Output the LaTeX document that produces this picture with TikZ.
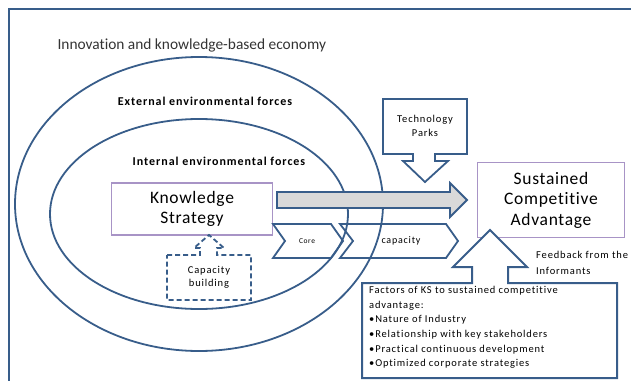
\documentclass[tikz,border=0pt]{standalone}
\usepackage{fontspec}
\setmainfont{Carlito}[Ligatures=NoCommon]
\newfontfamily\widefont[LetterSpace=8, Ligatures=NoCommon]{Carlito}
\newfontfamily\bigfont[LetterSpace=4, Ligatures=NoCommon]{Carlito}
\usetikzlibrary{positioning}
\definecolor{frameblue}{HTML}{385D8A}
\definecolor{boxpurple}{HTML}{A894C6}

\begin{document}
\begin{tikzpicture}[x=1pt, y=-1pt, line join=miter,
  line/.style = {draw=frameblue, line width=1.8pt},
  main/.style = {draw=boxpurple, line width=1.4pt, fill=white, align=center, inner sep=0pt, font=\bigfont\fontsize{17.5}{20.5}\selectfont},
  forces/.style = {font=\widefont\bfseries\fontsize{12}{13}\selectfont},
  small/.style = {align=center, inner sep=0pt}]
\useasboundingbox (0,0) rectangle (631,380);

% frame and the two environments
\draw[line, line width=2.2pt] (9,9) rectangle (660,400);
\draw[line] (199,204) ellipse [x radius=184pt, y radius=147pt];
\draw[line] (199,214) ellipse [x radius=149pt, y radius=95pt];

\node[anchor=west, text=black!80, font=\fontsize{15.4}{17}\selectfont] (0) at (54,45) {Innovation and knowledge-based economy};
\node[forces] (a) at (205,101) {External environmental forces};
\node[forces] (b) at (219,161) {Internal environmental forces};

\node[main, minimum width=161pt, minimum height=52pt] (1) at (192,209) {Knowledge\\Strategy};
\node[main, minimum width=147pt, minimum height=75pt] (2) at (551,200) {Sustained\\Competitive\\Advantage};

% block arrow from strategy to advantage
\draw[line, fill=black!15] (277,192) -- (450,192) -- (450,183) -- (467,200) -- (450,217) -- (450,208) -- (277,208) -- cycle;

% chevrons
\draw[line] (273,224) -- (331,224) -- (343,241) -- (331,258) -- (273,258) -- (285,241) -- cycle;
\draw[line] (340,224) -- (446,224) -- (458,241) -- (446,258) -- (340,258) -- (353,241) -- cycle;
\node[font=\widefont\fontsize{7.5}{8}\selectfont] (3) at (307,241) {Core};
\node[font=\widefont\fontsize{10}{10}\selectfont] (4) at (401,241) {capacity};

% technology parks callout
\draw[line, fill=white] (383,99) -- (467,99) -- (467,154) -- (435,154) -- (435,161) -- (448,161) -- (425,182)
  -- (403,161) -- (413,161) -- (413,154) -- (383,154) -- cycle;
\node[small, font=\widefont\fontsize{10.5}{14}\selectfont] (5) at (425,126) {Technology\\Parks};

% capacity building callout
\draw[line, dashed, dash pattern=on 5pt off 3pt, fill=white] (167,255) -- (200,255) -- (200,248) -- (194,248) -- (209,235)
  -- (224,248) -- (217,248) -- (217,255) -- (251,255) -- (251,300) -- (167,300) -- cycle;
\node[small, font=\widefont\fontsize{10.5}{13}\selectfont] (6) at (209,277) {Capacity\\building};

% factors box with feedback arrow
\draw[line, line width=2pt, fill=white] (362,283) -- (472,283) -- (472,267) -- (453,267) -- (490,230) -- (527,267)
  -- (508,267) -- (508,283) -- (617,283) -- (617,378) -- (362,378) -- cycle;
\node[anchor=west, align=left, inner sep=0pt, font=\widefont\fontsize{10.5}{16.5}\selectfont] (7) at (536,263) {Feedback from the\\Informants};
\node[anchor=north west, align=left, inner sep=0pt, font=\widefont\fontsize{10.5}{14.7}\selectfont] (8) at (369,286)
  {Factors of KS to sustained competitive\\advantage:\\\textbullet Nature of Industry\\\textbullet Relationship with key stakeholders\\\textbullet Practical continuous development\\\textbullet Optimized corporate strategies};

\end{tikzpicture}
\end{document}
